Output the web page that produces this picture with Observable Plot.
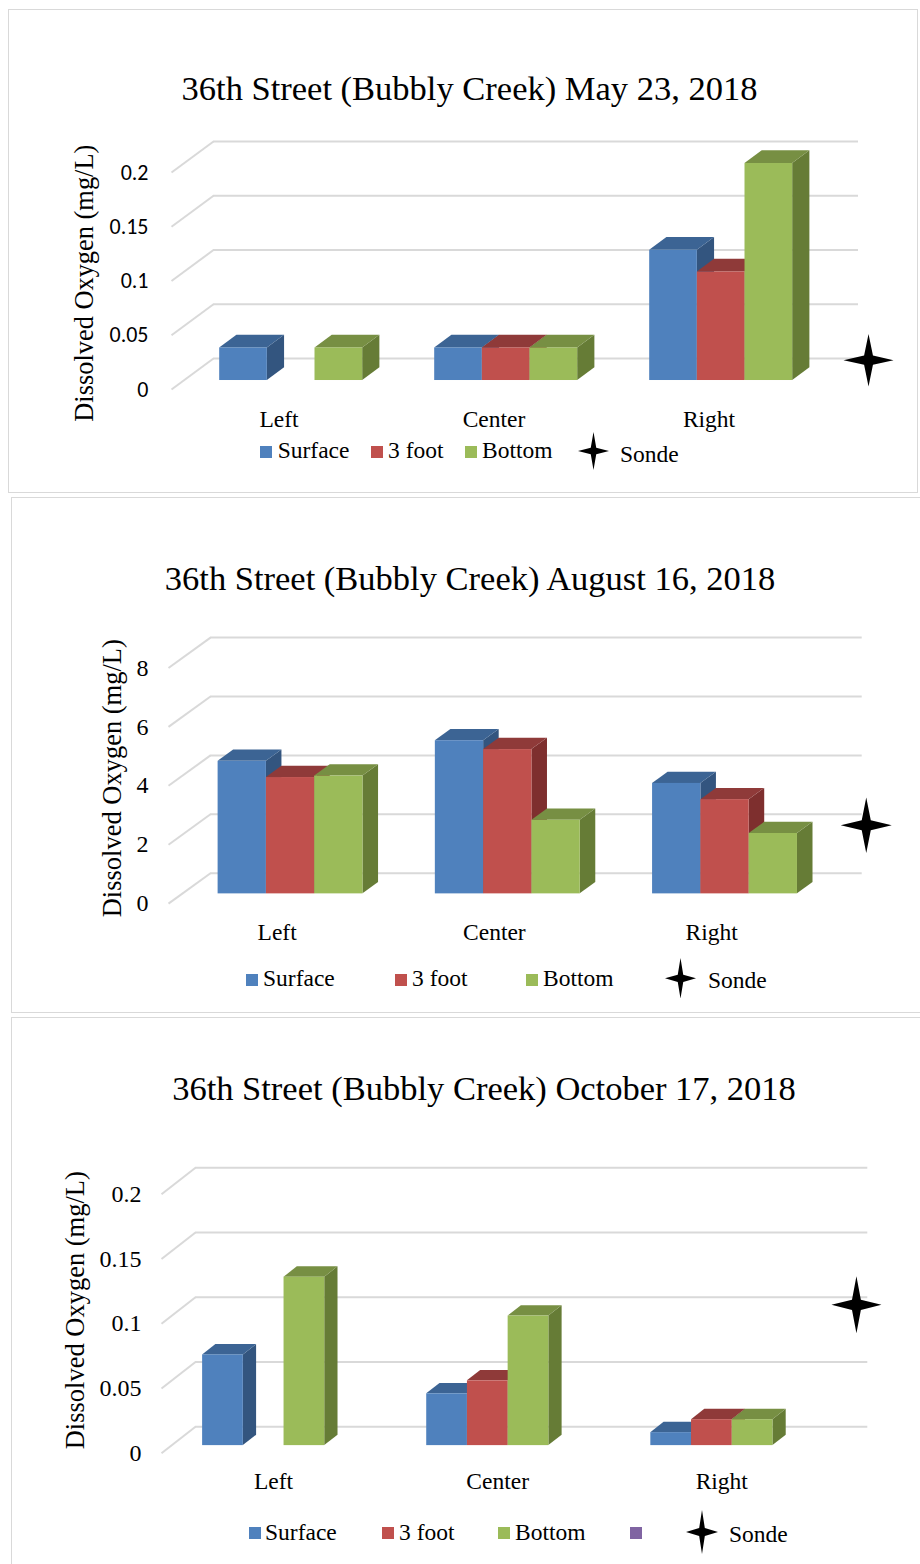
<!DOCTYPE html>
<html>
<head>
<meta charset="utf-8">
<script src="https://cdn.jsdelivr.net/npm/d3@7"></script>
<script src="https://cdn.jsdelivr.net/npm/@observablehq/plot@0.6"></script>
<style>
  html, body { margin: 0; padding: 0; background: #fff; }
  #root { position: relative; width: 920px; height: 1564px; overflow: hidden; background: #fff;
          font-family: "Liberation Serif", "Times New Roman", serif; color: #000; }
  .box { position: absolute; border: 1.5px solid #d9d9d9; box-sizing: border-box; }
  .plotwrap { position: absolute; left: 0; }
  .title { position: absolute; width: 920px; text-align: center; font-size: 34.5px; line-height: 1; white-space: nowrap; }
  .ylabel { position: absolute; width: 400px; text-align: center; line-height: 1; white-space: nowrap; transform: rotate(-90deg); transform-origin: 50% 50%; }
  .sw { position: absolute; width: 12px; height: 12px; }
  .lt { position: absolute; font-size: 23.5px; line-height: 1; white-space: nowrap; }
  .lstar { position: absolute; }
</style>
</head>
<body>
<div id="root"></div>
<script>
// ---------------- DATA ----------------
const categories = ["Left", "Center", "Right"];
const seriesNames = ["Surface", "3 foot", "Bottom"];

const smallTicks = [0, 0.05, 0.1, 0.15, 0.2];
const smallTickLabels = ["0", "0.05", "0.1", "0.15", "0.2"];
const augTicks = [0, 2, 4, 6, 8];
const augTickLabels = ["0", "2", "4", "6", "8"];

const mayTitle = "36th Street (Bubbly Creek) May 23, 2018";
const maySurface = [0.03, 0.03, 0.12];
const may3Foot = [null, 0.03, 0.10];
const mayBottom = [0.03, 0.03, 0.20];
const maySondeX = [2.742];
const maySondeValue = [0.027];

const augTitle = "36th Street (Bubbly Creek) August 16, 2018";
const augSurface = [4.5, 5.2, 3.75];
const aug3Foot = [3.95, 4.9, 3.2];
const augBottom = [4.0, 2.5, 2.05];
const augSondeX = [2.712];
const augSondeValue = [2.66];

const octTitle = "36th Street (Bubbly Creek) October 17, 2018";
const octSurface = [0.07, 0.04, 0.01];
const oct3Foot = [null, 0.05, 0.02];
const octBottom = [0.13, 0.10, 0.02];
const octSondeX = [2.601];
const octSondeValue = [0.1146];

const yAxisLabel = "Dissolved Oxygen (mg/L)";
const sondeLabel = "Sonde";

// ---------------- STYLE ----------------
const frontColors = ["#4F81BD", "#C0504D", "#9BBB59"];
const topColors   = ["#3C6494", "#8F3A39", "#778F43"];
const sideColors  = ["#33557F", "#7E2F2E", "#667C36"];
const extraSwatch = "#8064A2";
const gridColor = "#d9d9d9";
const serif = "Liberation Serif, Times New Roman, serif";
const sans = "Carlito, Lato, Open Sans, sans-serif";

function starSymbol(aspect) {
  return {
    draw(ctx, size) {
      const w = Math.sqrt(size / Math.PI), h = w * aspect, k = 0.177;
      ctx.moveTo(0, -h); ctx.lineTo(k * w, -k * h); ctx.lineTo(w, 0); ctx.lineTo(k * w, k * h);
      ctx.lineTo(0, h); ctx.lineTo(-k * w, k * h); ctx.lineTo(-w, 0); ctx.lineTo(-k * w, -k * h);
      ctx.closePath();
    }
  };
}

function starSVG(hw, hh) {
  const k = 0.177, w = hw, h = hh;
  const pts = [[0,-h],[k*w,-k*h],[w,0],[k*w,k*h],[0,h],[-k*w,k*h],[-w,0],[-k*w,-k*h]]
    .map(p => (p[0] + w).toFixed(2) + "," + (p[1] + h).toFixed(2)).join(" ");
  return `<svg width="${2*w}" height="${2*h}" viewBox="0 0 ${2*w} ${2*h}"><polygon points="${pts}" fill="#000"/></svg>`;
}

const panels = [
  {
    title: mayTitle, series: [maySurface, may3Foot, mayBottom], yMax: 0.2,
    ticks: smallTicks, tickLabels: smallTickLabels, sondeX: maySondeX, sondeValue: maySondeValue,
    legendSeries: seriesNames,
    L: {
      box: [8, 9, 910, 484], top: 0, h: 492, ml: 171, mr: 104, mt: 172, mb: 103,
      depthPx: [42, 31], d0: 0.29, d1: 0.70, group: 0.665, groupOffset: 0,
      tickDx: -23, tickFont: sans, tickSize: 22, catDy: 29.5, starR: 25, starAspect: 1.05,
      titleCx: 469.5, titleBase: 100, ylab: [86.5, 283, 26.4],
      swatches: [[260, 446], [371, 446], [465, 446]], texts: [[277.7, 459], [388, 459], [482, 459]],
      star: [593, 451, 15.5, 19], sonde: [620, 463]
    }
  },
  {
    title: augTitle, series: [augSurface, aug3Foot, augBottom], yMax: 8,
    ticks: augTicks, tickLabels: augTickLabels, sondeX: augSondeX, sondeValue: augSondeValue,
    legendSeries: seriesNames,
    L: {
      box: [11, 497, 915, 516], top: 497, h: 516, ml: 168, mr: 100.3, mt: 170.5, mb: 109.9,
      depthPx: [42, 30.4], d0: 0.32, d1: 0.69, group: 0.667, groupOffset: 0,
      tickDx: -20, tickFont: serif, tickSize: 24, catDy: 28.7, starR: 25.5, starAspect: 1.09,
      titleCx: 470, titleBase: 589.5, ylab: [115, 778.5, 26.5],
      swatches: [[246, 973.5], [395, 973.5], [526, 973.5]], texts: [[263, 986.2], [412, 986.2], [543, 986.2]],
      star: [680, 977.8, 15.5, 20.3], sonde: [708, 988.3]
    }
  },
  {
    title: octTitle, series: [octSurface, oct3Foot, octBottom], yMax: 0.2,
    ticks: smallTicks, tickLabels: smallTickLabels, sondeX: octSondeX, sondeValue: octSondeValue,
    legendSeries: seriesNames.concat([""]),
    L: {
      box: [11, 1017, 915, 560], top: 1017, h: 547, ml: 161, mr: 86.7, mt: 176.7, mb: 111.2,
      depthPx: [34, 26.5], d0: 0.29, d1: 0.68, group: 0.545, groupOffset: -0.088,
      tickDx: -20, tickFont: serif, tickSize: 24, catDy: 28.5, starR: 25, starAspect: 1.14,
      titleCx: 484, titleBase: 1100, ylab: [78, 1310, 26.5],
      swatches: [[249, 1527.3], [382, 1527.3], [497.7, 1527.3], [630, 1527.3]],
      texts: [[265, 1541], [399, 1541], [515, 1541], [642, 1541]],
      star: [702, 1532.3, 16, 22], sonde: [729, 1542.6]
    }
  }
];

const root = document.getElementById("root");

function el(tag, cls, style, html) {
  const e = document.createElement(tag);
  if (cls) e.className = cls;
  Object.assign(e.style, style || {});
  if (html != null) e.innerHTML = html;
  root.appendChild(e);
  return e;
}

panels.forEach(P => {
  const L = P.L;
  el("div", "box", {left: L.box[0] + "px", top: L.box[1] + "px", width: L.box[2] + "px", height: L.box[3] + "px"});

  const W = 920;
  const pxX = (W - L.ml - L.mr) / 3;
  const pxY = (L.h - L.mt - L.mb) / P.yMax;
  const DX = L.depthPx[0] / pxX;
  const DY = L.depthPx[1] / pxY;
  const g = L.group;
  const thick = L.d1 - L.d0;

  const bars = [];
  P.series.forEach((vals, si) => vals.forEach((v, ci) => {
    if (v == null) return;
    const x1 = ci - g / 2 + si * g / 3 + L.groupOffset + L.d0 * DX;
    bars.push({id: si * 3 + ci, si, ci, v, x1, x2: x1 + g / 3, y1: L.d0 * DY, y2: v + L.d0 * DY});
  }));
  const tops = bars.flatMap(b => [
    {id: b.id, si: b.si, y: b.y2, x1: b.x1, x2: b.x2},
    {id: b.id, si: b.si, y: b.y2 + thick * DY, x1: b.x1 + thick * DX, x2: b.x2 + thick * DX}
  ]);
  const sides = bars.flatMap(b => [
    {id: b.id, si: b.si, x: b.x2, y1: b.y1, y2: b.y2},
    {id: b.id, si: b.si, x: b.x2 + thick * DX, y1: b.y1 + thick * DY, y2: b.y2 + thick * DY}
  ]);
  const sonde = P.sondeX.map((x, i) => ({x, v: P.sondeValue[i]}));

  const marks = [
    Plot.link(P.ticks, {x1: -0.5, x2: -0.5 + DX, y1: t => t, y2: t => t + DY, stroke: gridColor, strokeWidth: 2}),
    Plot.ruleY(P.ticks, {y: t => t + DY, x1: -0.5 + DX, x2: 2.5 + DX, stroke: gridColor, strokeWidth: 2})
  ];
  [0, 1, 2].forEach(si => marks.push(Plot.areaY(sides.filter(d => d.si === si), {x: "x", y1: "y1", y2: "y2", z: "id", fill: sideColors[si]})));
  [0, 1, 2].forEach(si => marks.push(Plot.areaX(tops.filter(d => d.si === si), {y: "y", x1: "x1", x2: "x2", z: "id", fill: topColors[si]})));
  [0, 1, 2].forEach(si => marks.push(Plot.rect(bars.filter(d => d.si === si), {x1: "x1", x2: "x2", y1: "y1", y2: "y2", fill: frontColors[si]})));
  marks.push(Plot.text(P.ticks, {y: t => t, text: (t, i) => P.tickLabels[i], frameAnchor: "left", lineAnchor: "middle", textAnchor: "end",
    dx: L.tickDx, fontFamily: L.tickFont, fontSize: L.tickSize, fill: "#000"}));
  marks.push(Plot.text(categories, {x: (d, i) => i, text: d => d, frameAnchor: "bottom", lineAnchor: "middle", dy: L.catDy,
    fontFamily: serif, fontSize: 23.5, fill: "#000"}));
  marks.push(Plot.dot(sonde, {x: "x", y: "v", r: L.starR, symbol: starSymbol(L.starAspect), fill: "#000"}));

  const svg = Plot.plot({
    width: W, height: L.h,
    marginLeft: L.ml, marginRight: L.mr, marginTop: L.mt, marginBottom: L.mb,
    x: {domain: [-0.5, 2.5], axis: null},
    y: {domain: [0, P.yMax], axis: null},
    style: {background: "transparent", overflow: "visible"},
    marks
  });
  const wrap = el("div", "plotwrap", {top: L.top + "px", width: W + "px", height: L.h + "px"});
  wrap.appendChild(svg);

  el("div", "title", {left: (L.titleCx - 460) + "px", top: (L.titleBase - 0.8375 * 34.5) + "px"}, P.title);
  const fs = L.ylab[2];
  el("div", "ylabel", {left: (L.ylab[0] - 2.6 - 200) + "px", top: (L.ylab[1] - fs / 2) + "px", height: fs + "px", fontSize: fs + "px"}, yAxisLabel);
  P.legendSeries.forEach((name, i) => {
    const c = i < 3 ? frontColors[i] : extraSwatch;
    el("div", "sw", {left: L.swatches[i][0] + "px", top: L.swatches[i][1] + "px", background: c});
    if (name) el("div", "lt", {left: L.texts[i][0] + "px", top: (L.texts[i][1] - 0.8375 * 23.5) + "px"}, name);
  });
  const [sx, sy, hw, hh] = L.star;
  el("div", "lstar", {left: (sx - hw) + "px", top: (sy - hh) + "px", width: 2 * hw + "px", height: 2 * hh + "px"}, starSVG(hw, hh));
  el("div", "lt", {left: L.sonde[0] + "px", top: (L.sonde[1] - 0.8375 * 23.5) + "px"}, sondeLabel);
});
</script>
</body>
</html>
